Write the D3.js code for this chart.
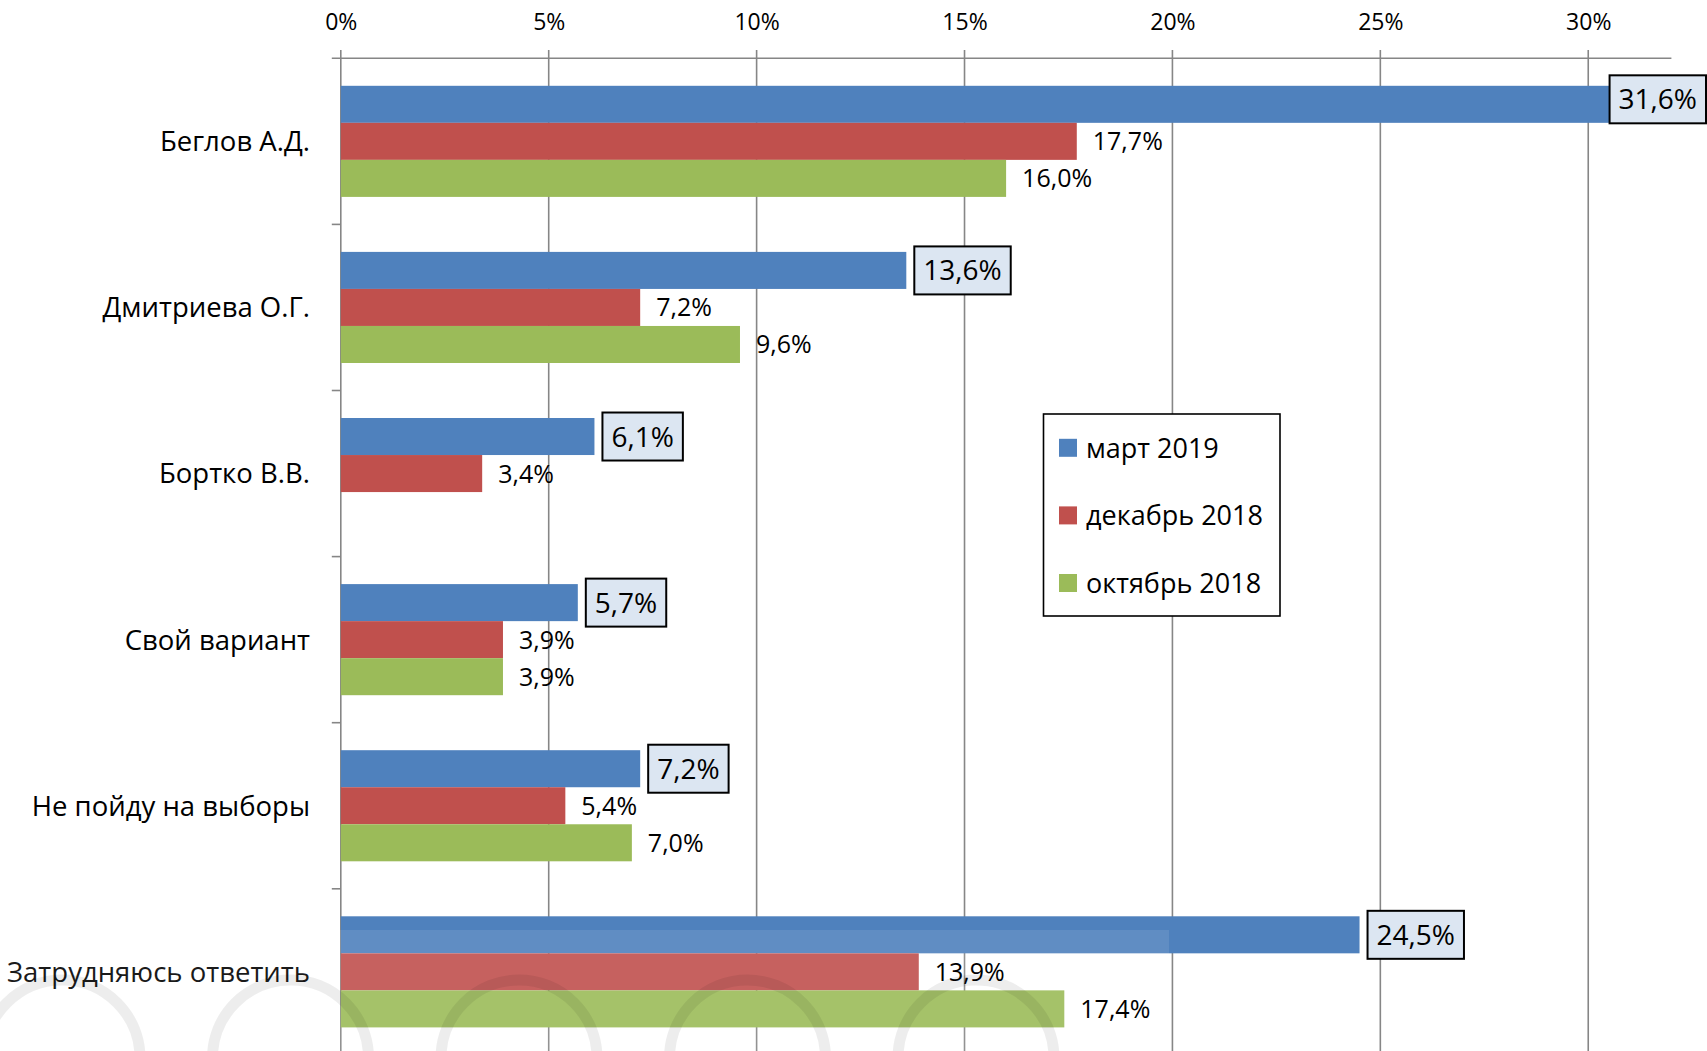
<!DOCTYPE html>
<html>
<head>
<meta charset="utf-8">
<script src="https://cdn.jsdelivr.net/npm/d3@7"></script>
<style>
  html, body { margin: 0; padding: 0; background: #fff; }
  svg { display: block; }
  text { font-family: "Open Sans", "Noto Sans", sans-serif; fill: #000; }
</style>
</head>
<body>
<svg id="chart" width="1707" height="1051"></svg>
<script>
// ---- data ----
const categories = ["Беглов А.Д.", "Дмитриева О.Г.", "Бортко В.В.", "Свой вариант", "Не пойду на выборы", "Затрудняюсь ответить"];
const seriesNames = ["март 2019", "декабрь 2018", "октябрь 2018"];
const mar2019 = [31.6, 13.6, 6.1, 5.7, 7.2, 24.5];
const dec2018 = [17.7, 7.2, 3.4, 3.9, 5.4, 13.9];
const oct2018 = [16.0, 9.6, null, 3.9, 7.0, 17.4];
const tickValues = [0, 5, 10, 15, 20, 25, 30];
const colors = ["#4f81bd", "#c0504d", "#9bbb59"];
const watermarkRings = [0, 1, 2, 3, 4];

const seriesValues = [mar2019, dec2018, oct2018];
const W = 1707, H = 1051;
const svg = d3.select("#chart");

const x = d3.scaleLinear().domain([0, 32]).range([340.8, 1671.4]);
const y = d3.scaleBand().domain(categories).range([58.3, 58.3 + 6 * 166.1]).padding(0);
const yInner = d3.scaleBand().domain(seriesNames).range([27.5, 138.6]).padding(0);

const fmt = v => v.toFixed(1).replace(".", ",") + "%";

// ---- gridlines ----
const grid = svg.append("g");
grid.selectAll("line").data(tickValues).join("line")
  .attr("x1", d => x(d)).attr("x2", d => x(d))
  .attr("y1", 50).attr("y2", H)
  .attr("stroke", "#868686").attr("stroke-width", 1.6);

// top axis line
svg.append("line")
  .attr("x1", x(0) - 9).attr("x2", x.range()[1])
  .attr("y1", y.range()[0]).attr("y2", y.range()[0])
  .attr("stroke", "#868686").attr("stroke-width", 1.6);

// y-axis ticks at band boundaries
svg.append("g").selectAll("line").data(categories.slice(1)).join("line")
  .attr("x1", x(0) - 9).attr("x2", x(0))
  .attr("y1", d => y(d)).attr("y2", d => y(d))
  .attr("stroke", "#868686").attr("stroke-width", 1.6);

// tick labels (top axis)
const xAxis = d3.axisTop(x).tickValues(tickValues).tickFormat(d => d + "%").tickSize(0).tickPadding(0);
const ax = svg.append("g").attr("transform", "translate(0,22)").call(xAxis);
ax.select(".domain").remove();
ax.selectAll("text")
  .attr("font-family", '"Open Sans", sans-serif')
  .attr("font-size", 23).attr("fill", "#000")
  .attr("dy", "0.36em").attr("y", 0);

// category labels
svg.append("g").selectAll("text").data(categories).join("text")
  .attr("x", 310)
  .attr("y", d => y(d) + y.bandwidth() / 2)
  .attr("text-anchor", "end")
  .attr("dy", "0.36em")
  .attr("font-size", 27.5)
  .text(d => d);

// ---- bars ----
const barData = [];
categories.forEach((c, i) => {
  seriesNames.forEach((s, j) => {
    const v = seriesValues[j][i];
    if (v !== null && v !== undefined) barData.push({ cat: c, ser: s, j, v });
  });
});

svg.append("g").selectAll("rect").data(barData).join("rect")
  .attr("x", x(0))
  .attr("y", d => y(d.cat) + yInner(d.ser))
  .attr("width", d => x(d.v) - x(0))
  .attr("height", yInner.bandwidth())
  .attr("fill", d => colors[d.j]);

// ---- faint watermark at the bottom (under labels) ----
const wm = svg.append("g");
wm.append("rect").attr("x", 0).attr("y", 930).attr("width", 1169).attr("height", H - 930)
  .attr("fill", "#fff").attr("opacity", 0.1);
const wmX = d3.scalePoint().domain(watermarkRings).range([62, 976]);
watermarkRings.forEach(k => {
  wm.append("circle").attr("cx", wmX(k)).attr("cy", 1058).attr("r", 78)
    .attr("fill", "none").attr("stroke", "#000").attr("stroke-opacity", 0.07).attr("stroke-width", 11);
});

// ---- labels ----
const lab = svg.append("g");
barData.forEach(d => {
  const cy = y(d.cat) + yInner(d.ser) + yInner.bandwidth() / 2;
  const xe = x(d.v);
  if (d.j === 0) {
    const g = lab.append("g");
    const t = g.append("text")
      .attr("font-size", 28)
      .attr("dy", "0.36em")
      .text(fmt(d.v));
    const tw = t.node().getComputedTextLength();
    const bw = tw + 18, bh = 48;
    let bx = xe + 8;
    let by = cy;
    if (bx + bw > W - 1) { bx = W - 1 - bw; by = cy - 5; }
    t.attr("x", bx + 9).attr("y", by);
    g.insert("rect", "text")
      .attr("x", bx).attr("y", by - bh / 2)
      .attr("width", bw).attr("height", bh)
      .attr("fill", "#dce6f2").attr("stroke", "#000").attr("stroke-width", 2);
  } else {
    lab.append("text")
      .attr("x", xe + 16).attr("y", cy)
      .attr("dy", "0.36em")
      .attr("font-size", 25)
      .text(fmt(d.v));
  }
});

// ---- legend ----
const lg = svg.append("g");
lg.append("rect").attr("x", 1043.5).attr("y", 414).attr("width", 236.5).attr("height", 202)
  .attr("fill", "#fff").attr("stroke", "#000").attr("stroke-width", 1.6);
const legY = d3.scalePoint().domain(seriesNames).range([447.8, 583]);
seriesNames.forEach((s, j) => {
  lg.append("rect").attr("x", 1059).attr("y", legY(s) - 9).attr("width", 18).attr("height", 18).attr("fill", colors[j]);
  lg.append("text").attr("x", 1086).attr("y", legY(s)).attr("dy", "0.36em").attr("font-size", 27).text(s);
});
</script>
</body>
</html>
